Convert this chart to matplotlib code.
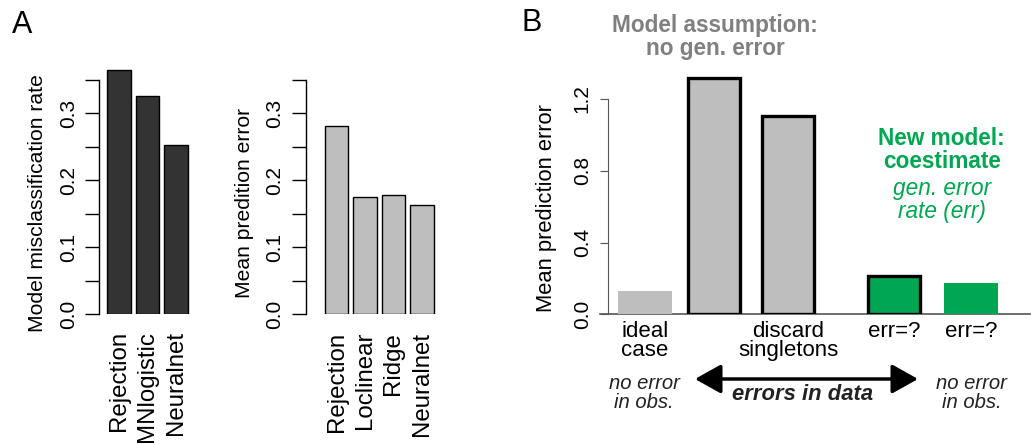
import matplotlib
matplotlib.use("Agg")
import matplotlib.pyplot as plt
import numpy as np

plt.rcParams["font.family"] = ["Liberation Sans", "DejaVu Sans"]

W, H = 1031, 444

# panel A, left: classification
clf_methods = ["Rejection", "MNlogistic", "Neuralnet"]
clf_rate = [0.364, 0.326, 0.252]

# panel A, right: regression
reg_methods = ["Rejection", "Loclinear", "Ridge", "Neuralnet"]
reg_error = [0.281, 0.1755, 0.1776, 0.1636]

# panel B
b_labels = ["ideal\ncase", "", "discard\nsingletons", "err=?", "err=?"]
b_error = [0.13, 1.315, 1.105, 0.213, 0.174]
a_ticks = [0.0, 0.05, 0.1, 0.15, 0.2, 0.25, 0.3, 0.35]
a_ticklabels = ["0.0", "", "0.1", "", "0.2", "", "0.3", ""]
b_ticks = [0.0, 0.4, 0.8, 1.2]

GREY = "#BEBEBE"
GREEN = "#00A651"
DARK = "#333333"


def add_ax(fig, left, right, top, bottom):
    return fig.add_axes([left / W, 1 - bottom / H, (right - left) / W, (bottom - top) / H])


def fx(x):
    return x / W


def fy(y):
    return 1 - y / H


fig = plt.figure(figsize=(W / 100, H / 100), dpi=100)

# ---- A left
ax1 = add_ax(fig, 99, 192.4, 314.3 - 0.38 * 670, 314.3)
x1 = 0.7 + 1.2 * np.arange(len(clf_rate))
ax1.bar(x1, clf_rate, width=1.0, color=DARK, edgecolor="black", linewidth=1.0)
ax1.set_xlim(-0.14, 3.8)
ax1.set_ylim(0, 0.38)

# ---- A right
ax2 = add_ax(fig, 306, 438.5, 314.3 - 0.38 * 670, 314.3)
x2 = 0.7 + 1.2 * np.arange(len(reg_error))
ax2.bar(x2, reg_error, width=1.0, color=GREY, edgecolor="black", linewidth=1.0)
ax2.set_xlim(-0.59, 5.0)
ax2.set_ylim(0, 0.38)

for ax, xs, names, pad_y, pad_x in [(ax1, x1, clf_methods, 5, 12), (ax2, x2, reg_methods, 6, 12.5)]:
    for s in ["top", "right", "bottom"]:
        ax.spines[s].set_visible(False)
    ax.spines["left"].set_bounds(0, 0.35)
    ax.spines["left"].set_linewidth(1.0)
    ax.set_yticks(a_ticks)
    ax.set_yticklabels(a_ticklabels, rotation=90, va="center", fontsize=15)
    ax.tick_params(axis="y", length=10, width=1.0, pad=pad_y)
    ax.set_xticks(xs)
    ax.set_xticklabels(names, rotation=90, ha="center", va="top", fontsize=17.3)
    ax.tick_params(axis="x", length=0, pad=pad_x)

fig.text(fx(38), fy(203), "Model misclassification rate", rotation=90,
         ha="center", va="center", fontsize=15.2)
fig.text(fx(245), fy(203), "Mean predition error", rotation=90,
         ha="center", va="center", fontsize=15.2)

# ---- B
UNIT = 54.0
ax3 = add_ax(fig, 608.3, 1030, 314.3 - 1.4 * 179.4, 314.3)
x3 = [0.676, 1.961, 3.33, 5.287, 6.713]
b_colors = [GREY, GREY, GREY, GREEN, GREEN]
b_edges = [False, True, True, True, False]
for xi, v, c, e in zip(x3, b_error, b_colors, b_edges):
    ax3.bar(xi, v, width=0.97 if e else 1.0, color=c,
            edgecolor="black" if e else c, linewidth=2.4 if e else 0, zorder=3)
ax3.set_xlim(0, 421.7 / UNIT)
ax3.set_ylim(0, 1.4)
for s in ["top", "right", "bottom"]:
    ax3.spines[s].set_visible(False)
ax3.spines["left"].set_bounds(0, 1.2)
ax3.spines["left"].set_color("#555555")
ax3.axhline(0, xmin=-8.3 / 421.7, xmax=1, color="#555555", lw=1.2, clip_on=False, zorder=2)
ax3.set_yticks(b_ticks)
ax3.set_yticklabels([f"{t:.1f}" for t in b_ticks], rotation=90, va="center", fontsize=15)
ax3.tick_params(axis="y", length=6, color="#555555", pad=6)
ax3.set_xticks(x3)
ax3.set_xticklabels(b_labels, fontsize=16, linespacing=0.85, va="top")
ax3.tick_params(axis="x", length=0, pad=5)

fig.text(fx(546.7), fy(208), "Mean prediction error", rotation=90,
         ha="center", va="center", fontsize=15.8)

# panel letters
fig.text(fx(22), fy(25), "A", ha="center", va="center", fontsize=22)
fig.text(fx(532), fy(23), "B", ha="center", va="center", fontsize=22)

# annotations
fig.text(fx(715), fy(37), "Model assumption:\nno gen. error", ha="center", va="center",
         fontsize=16.3, fontweight="bold", color="#808080", linespacing=1.0)
fig.text(fx(941.7), fy(150), "New model:\ncoestimate", ha="center", va="center",
         fontsize=16.3, fontweight="bold", color=GREEN, linespacing=1.05)
fig.text(fx(941.7), fy(200), "gen. error\nrate (err)", ha="center", va="center",
         fontsize=16.3, style="italic", color=GREEN, linespacing=1.05)

fig.text(fx(644), fy(393), "no error\nin obs.", ha="center", va="center",
         fontsize=14.6, style="italic", color="#222222", linespacing=0.95)
fig.text(fx(971.7), fy(393), "no error\nin obs.", ha="center", va="center",
         fontsize=14.6, style="italic", color="#222222", linespacing=0.95)
fig.text(fx(803), fy(394), "errors in data", ha="center", va="center",
         fontsize=15.8, style="italic", fontweight="bold", color="#222222")

fig.patches.append(matplotlib.patches.FancyArrowPatch(
    (fx(695), fy(379)), (fx(918), fy(379)), transform=fig.transFigure,
    arrowstyle="<|-|>,head_length=1.0,head_width=0.56", mutation_scale=16,
    lw=2.5, color="black", shrinkA=0, shrinkB=0))

fig.savefig("out.png", dpi=100)
